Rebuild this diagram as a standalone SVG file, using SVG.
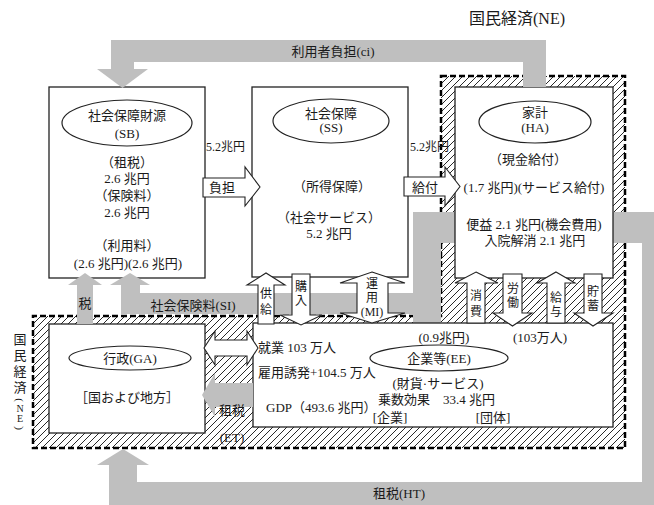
<svg xmlns="http://www.w3.org/2000/svg" width="654" height="505" viewBox="0 0 654 505">
<defs>
<pattern id="hatch" patternUnits="userSpaceOnUse" width="7" height="7">
<rect width="7" height="7" fill="#fff"/>
<path d="M-1,1 l2,-2 M0,7 l7,-7 M6,8 l2,-2" stroke="#111" stroke-width="0.9"/>
</pattern>
<style>
.t{font-family:"Liberation Serif","Noto Sans CJK JP",serif;font-size:13px;fill:#1a1a1a;text-anchor:middle}
.s{font-size:12px}
.v{font-size:12px}
.l{text-anchor:start}
.box{fill:#fff;stroke:#222;stroke-width:1.3}
.ell{fill:#fff;stroke:#222;stroke-width:1.2}
.g{fill:#bfbfbf;stroke:none}
.w{fill:#fff;stroke:#222;stroke-width:1.1;stroke-linejoin:miter}
</style>
</defs>
<rect width="654" height="505" fill="#fff"/>

<g id="NE">
<path d="M441,76 H625 V448 H33 V316 H441 Z" fill="url(#hatch)" stroke="#000" stroke-width="2.5" stroke-dasharray="6 3"/>
<text class="t" x="517" y="24" style="font-size:16px">国民経済(NE)</text>
<g class="t" style="font-size:13px">
<text x="20" y="344">国</text>
<text x="20" y="360">民</text>
<text x="20" y="376">経</text>
<text x="20" y="392">済</text>
<text transform="translate(20,400) rotate(90)" dy="4" style="font-size:11px">(</text>
<text x="20" y="412" style="font-size:10px">N</text>
<text x="20" y="422" style="font-size:10px">E</text>
<text transform="translate(20,428) rotate(90)" dy="4" style="font-size:11px">)</text>
</g>
</g>

<g id="connectors">
<rect class="g" x="413" y="212" width="251" height="31"/>
<rect class="g" x="413" y="212" width="28" height="111"/>
<rect class="g" x="121" y="293" width="320" height="21"/>
<rect class="g" x="642" y="212" width="22" height="293"/>
<rect class="g" x="109" y="482" width="555" height="30"/>
<rect class="g" x="109" y="465" width="28" height="40"/>
<polygon class="g" points="97,465 149,465 123,449"/>
</g>

<g id="SB">
<rect class="box" x="49" y="87" width="156" height="191"/>
<ellipse class="ell" cx="127" cy="123" rx="65" ry="23"/>
<text class="t" x="127" y="120">社会保障財源</text>
<text class="t" x="127" y="138">(SB)</text>
<text class="t" x="127" y="167">（租税）</text>
<text class="t" x="127" y="183">2.6 兆円</text>
<text class="t" x="127" y="200">（保険料）</text>
<text class="t" x="127" y="217">2.6 兆円</text>
<text class="t" x="127" y="250">（利用料）</text>
<text class="t" x="128" y="268">(2.6 兆円)(2.6 兆円)</text>
</g>

<g id="SS">
<rect class="box" x="252" y="87" width="156" height="190"/>
<ellipse class="ell" cx="331" cy="121" rx="58" ry="22"/>
<text class="t" x="331" y="118">社会保障</text>
<text class="t" x="331" y="132">(SS)</text>
<text class="t" x="332" y="191">（所得保障）</text>
<text class="t" x="329" y="222">（社会サービス）</text>
<text class="t" x="329" y="238">5.2 兆円</text>
</g>

<g id="HA">
<rect class="box" x="455" y="87" width="158" height="191"/>
<ellipse class="ell" cx="535" cy="122" rx="56" ry="21"/>
<text class="t" x="535" y="117">家計</text>
<text class="t" x="535" y="132">(HA)</text>
<text class="t" x="528" y="164">（現金給付）</text>
<text class="t" x="534" y="192">(1.7 兆円)(サービス給付)</text>
<text class="t" x="534" y="229">便益 2.1 兆円(機会費用)</text>
<text class="t" x="535" y="245">入院解消 2.1 兆円</text>
</g>

<g id="GA">
<rect class="box" x="49" y="324" width="156" height="109"/>
<ellipse class="ell" cx="130" cy="358" rx="61" ry="12"/>
<text class="t" x="130" y="363">行政(GA)</text>
<text class="t" x="127" y="402">［国および地方］</text>
</g>

<g id="EE">
<rect class="box" x="253" y="323" width="360" height="104"/>
<ellipse class="ell" cx="439" cy="358" rx="69" ry="13"/>
<text class="t" x="439" y="363">企業等(EE)</text>
<text class="t l" x="258" y="352">就業 103 万人</text>
<text class="t l" x="258" y="377">雇用誘発+104.5 万人</text>
<text class="t l" x="266" y="412">GDP（493.6 兆円）</text>
<text class="t" x="444" y="342">(0.9兆円)</text>
<text class="t" x="540" y="342">(103万人)</text>
<text class="t" x="438" y="388">(財貨·サービス)</text>
<text class="t l" x="378" y="404">乗数効果　33.4 兆円</text>
<text class="t" x="390" y="422">[企業]</text>
<text class="t" x="493" y="422">[団体]</text>
</g>

<g id="flows">
<path class="g" d="M111,69 V40 H546 V87 H523 V62 H134 V69 Z"/>
<polygon class="g" points="97,69 148,69 122.5,88"/>
<text class="t" x="333" y="56">利用者負担(ci)</text>
<rect class="g" x="77" y="284" width="16" height="40"/>
<polygon class="g" points="68,285 102,285 85,273"/>
<rect class="g" x="121" y="284" width="19" height="30"/>
<polygon class="g" points="110,285 150,285 130,273"/>
<text class="t" x="85" y="308">税</text>
<text class="t" x="193" y="310">社会保険料(SI)</text>
<polygon class="g" points="253,383 215,383 215,373 202,395 215,417 215,407 253,407"/>
<text class="t" x="232" y="415">租税</text>
<text class="t" x="232" y="442">(ET)</text>
<text class="t" x="399" y="498">租税(HT)</text>

<polygon class="w" points="203,178 245,178 245,167 260,187 245,206 245,197 203,197"/>
<text class="t" x="222" y="192">負担</text>
<polygon class="w" points="404,177 445,177 445,167 460,186.5 445,206 445,196 404,196"/>
<text class="t" x="425" y="192">給付</text>
<text class="t s l" x="206" y="151">5.2兆円</text>
<text class="t s l" x="410" y="151">5.2兆円</text>

<polygon class="w" points="258,324 258,285 247,285 266,273 285,285 274,285 274,324"/>
<text class="t v" x="266" y="298">供</text>
<text class="t v" x="266" y="314">給</text>
<polygon class="w" points="292,274 310,274 310,315 322,315 301,325 280,315 292,315"/>
<text class="t v" x="301" y="291">購</text>
<text class="t v" x="301" y="305">入</text>
<polygon class="w" points="372,272 405,283 388,283 388,313 405,313 372,323 340,313 357,313 357,283 340,283"/>
<text class="t v" x="372" y="288">運</text>
<text class="t v" x="372" y="302">用</text>
<text class="t v" x="372" y="316">(MI)</text>

<polygon class="w" points="476,272 498,283 485,283 485,323 467,323 467,283 455,283"/>
<text class="t v" x="476" y="300">消</text>
<text class="t v" x="476" y="316">費</text>
<polygon class="w" points="503,274 522,274 522,313 532,313 512.5,326 493,313 503,313"/>
<text class="t v" x="513" y="293">労</text>
<text class="t v" x="513" y="307">働</text>
<polygon class="w" points="556,272 575,283 565,283 565,323 547,323 547,283 537,283"/>
<text class="t v" x="556" y="302">給</text>
<text class="t v" x="556" y="316">与</text>
<polygon class="w" points="584,274 602,274 602,313 613,313 593,326 574,313 584,313"/>
<text class="t v" x="593" y="296">貯</text>
<text class="t v" x="593" y="310">蓄</text>

<polygon class="w" points="204,348 215,331 215,340 247,340 247,331 258,348 247,365 247,356 215,356 215,365"/>
</g>
</svg>
